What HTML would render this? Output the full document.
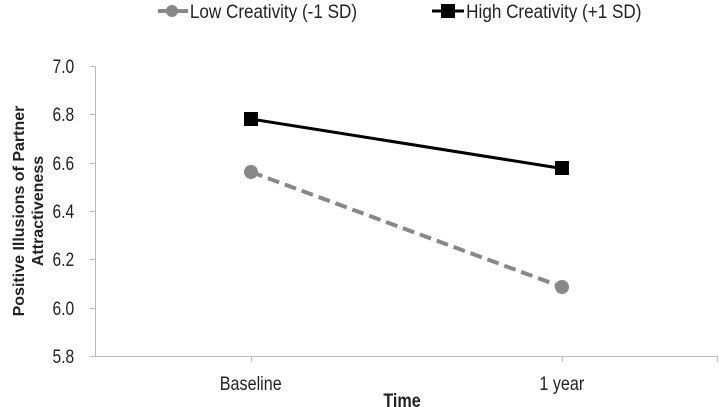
<!DOCTYPE html>
<html><head><style>body{margin:0;background:#fff}svg{display:block}</style></head><body>
<svg width="719" height="407" xmlns="http://www.w3.org/2000/svg" font-family="Liberation Sans, sans-serif">
<g stroke="#bbb" stroke-width="1">
<line x1="95.5" y1="66" x2="95.5" y2="356"/>
<line x1="95" y1="356.5" x2="718" y2="356.5"/>
<line x1="90" y1="66.5" x2="95" y2="66.5"/>
<line x1="90" y1="114.5" x2="95" y2="114.5"/>
<line x1="90" y1="163.5" x2="95" y2="163.5"/>
<line x1="90" y1="211.5" x2="95" y2="211.5"/>
<line x1="90" y1="259.5" x2="95" y2="259.5"/>
<line x1="90" y1="308.5" x2="95" y2="308.5"/>
<line x1="90" y1="356.5" x2="95" y2="356.5"/>
<line x1="251.5" y1="356" x2="251.5" y2="362"/>
<line x1="562.5" y1="356" x2="562.5" y2="362"/>
<line x1="717.5" y1="356" x2="717.5" y2="362"/>
</g>
<g font-size="19" fill="#222" text-anchor="end" transform="scale(0.82,1)">
<text x="90.5" y="73">7.0</text><text x="90.5" y="121">6.8</text><text x="90.5" y="170">6.6</text>
<text x="90.5" y="218">6.4</text><text x="90.5" y="266">6.2</text><text x="90.5" y="315">6.0</text><text x="90.5" y="363">5.8</text>
</g>
<g font-size="19" fill="#222" text-anchor="middle" transform="scale(0.85,1)">
<text x="295" y="390">Baseline</text><text x="661" y="390">1 year</text>
<text x="473" y="407" font-weight="bold">Time</text>
</g>
<g font-size="16" font-weight="bold" fill="#222" text-anchor="middle">
<text transform="translate(24,211) rotate(-90)">Positive Illusions of Partner</text>
<text transform="translate(43,211) rotate(-90)">Attractiveness</text>
</g>
<line x1="251" y1="119" x2="562" y2="168.5" stroke="#000" stroke-width="3"/>
<rect x="244" y="112" width="14" height="14" fill="#000"/>
<rect x="555" y="161" width="14" height="14" fill="#000"/>
<line x1="251" y1="172" x2="562" y2="287" stroke="#888" stroke-width="4" stroke-dasharray="12,6"/>
<circle cx="251" cy="172" r="7" fill="#888"/>
<circle cx="562" cy="287" r="7" fill="#888"/>
<line x1="158" y1="11" x2="188" y2="11" stroke="#888" stroke-width="4"/>
<circle cx="172" cy="11" r="6" fill="#888"/>
<line x1="432" y1="11" x2="464" y2="11" stroke="#000" stroke-width="3"/>
<rect x="441" y="4" width="14" height="14" fill="#000"/>
<g font-size="19" fill="#222" transform="scale(0.9,1)">
<text x="211" y="18">Low Creativity (-1 SD)</text>
<text x="518" y="18">High Creativity (+1 SD)</text>
</g>
</svg>
</body></html>
